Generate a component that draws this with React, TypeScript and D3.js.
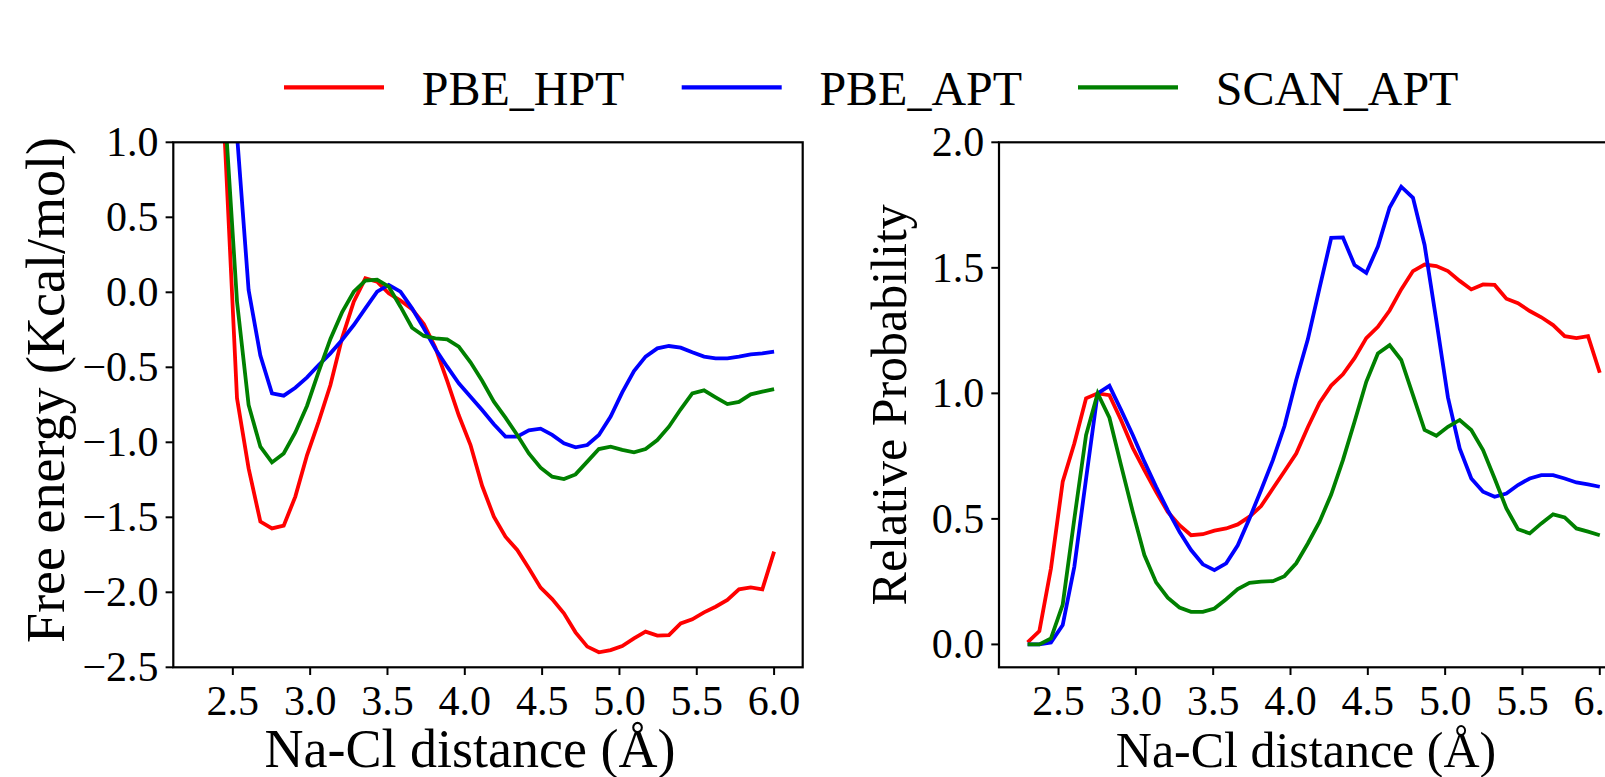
import React from 'react';
import * as d3 from 'd3';

// Na-Cl distance grid (Å)
const distance = [
  2.300, 2.376, 2.451, 2.527, 2.602, 2.678, 2.753, 2.829, 2.904, 2.980,
  3.055, 3.131, 3.206, 3.282, 3.357, 3.433, 3.508, 3.584, 3.659, 3.735,
  3.810, 3.886, 3.961, 4.037, 4.112, 4.188, 4.263, 4.339, 4.414, 4.490,
  4.565, 4.641, 4.716, 4.792, 4.867, 4.943, 5.018, 5.094, 5.169, 5.245,
  5.320, 5.396, 5.471, 5.547, 5.622, 5.698, 5.773, 5.849, 5.924, 6.000,
];

const seriesNames = ['PBE_HPT', 'PBE_APT', 'SCAN_APT'];
const seriesColors = ['#ff0000', '#0000ff', '#008000'];

// Free energy (kcal/mol)
const freeHPT = [
  4.5, 2.4, 0.95, -0.707, -1.174, -1.529, -1.574, -1.556, -1.362, -1.085,
  -0.862, -0.618, -0.307, -0.062, 0.093, 0.071, -0.007, -0.055, -0.112, -0.212,
  -0.37, -0.59, -0.82, -1.018, -1.29, -1.496, -1.629, -1.718, -1.840, -1.969,
  -2.045, -2.140, -2.267, -2.362, -2.400, -2.385, -2.358, -2.307, -2.262, -2.289,
  -2.285, -2.207, -2.180, -2.134, -2.096, -2.051, -1.980, -1.967, -1.980, -1.729,
];
const freeAPT = [
  6.0, 4.5, 2.6, 1.05, 0.015, -0.422, -0.674, -0.689, -0.636, -0.567,
  -0.485, -0.407, -0.318, -0.218, -0.107, 0.004, 0.049, 0.004, -0.107, -0.240,
  -0.378, -0.496, -0.607, -0.696, -0.785, -0.880, -0.962, -0.962, -0.920, -0.909,
  -0.951, -1.007, -1.034, -1.018, -0.951, -0.829, -0.667, -0.525, -0.429, -0.374,
  -0.358, -0.369, -0.400, -0.429, -0.440, -0.440, -0.429, -0.414, -0.407, -0.396,
];
const freeSCAN = [
  5.0, 3.2, 1.17, -0.062, -0.751, -1.029, -1.134, -1.074, -0.934, -0.756,
  -0.529, -0.311, -0.134, 0.004, 0.078, 0.084, 0.038, -0.096, -0.236, -0.291,
  -0.307, -0.314, -0.362, -0.467, -0.59, -0.729, -0.836, -0.951, -1.074, -1.169,
  -1.229, -1.245, -1.214, -1.129, -1.045, -1.029, -1.051, -1.067, -1.045, -0.985,
  -0.896, -0.780, -0.674, -0.654, -0.700, -0.745, -0.731, -0.680, -0.662, -0.645,
];

// Relative probability
const probHPT = [
  0.008, 0.053, 0.303, 0.648, 0.80, 0.980, 1.000, 0.993, 0.894, 0.783,
  0.694, 0.608, 0.528, 0.475, 0.435, 0.439, 0.453, 0.462, 0.478, 0.509,
  0.551, 0.621, 0.690, 0.760, 0.865, 0.963, 1.031, 1.076, 1.140, 1.220,
  1.265, 1.330, 1.414, 1.487, 1.513, 1.507, 1.487, 1.448, 1.414, 1.434,
  1.432, 1.377, 1.359, 1.328, 1.303, 1.272, 1.228, 1.220, 1.228, 1.082,
];
const probAPT = [
  0.0, 0.0, 0.008, 0.077, 0.309, 0.66, 1.0, 1.030, 0.934, 0.834,
  0.728, 0.628, 0.535, 0.449, 0.376, 0.319, 0.296, 0.323, 0.395, 0.502,
  0.615, 0.734, 0.87, 1.053, 1.215, 1.42, 1.619, 1.621, 1.511, 1.480,
  1.585, 1.740, 1.823, 1.779, 1.591, 1.29, 0.984, 0.781, 0.661, 0.608,
  0.588, 0.601, 0.635, 0.661, 0.674, 0.674, 0.661, 0.645, 0.637, 0.628,
];
const probSCAN = [
  0.0, 0.0, 0.024, 0.159, 0.50, 0.834, 1.0, 0.903, 0.714, 0.528,
  0.356, 0.247, 0.186, 0.147, 0.130, 0.130, 0.143, 0.180, 0.220, 0.245,
  0.250, 0.252, 0.272, 0.323, 0.402, 0.489, 0.597, 0.734, 0.887, 1.046,
  1.159, 1.192, 1.133, 0.993, 0.854, 0.831, 0.867, 0.894, 0.854, 0.774,
  0.661, 0.542, 0.459, 0.442, 0.482, 0.518, 0.506, 0.462, 0.449, 0.435,
];

const xTicks = [2.5, 3.0, 3.5, 4.0, 4.5, 5.0, 5.5, 6.0];
const yTicksLeft = [-2.5, -2.0, -1.5, -1.0, -0.5, 0.0, 0.5, 1.0];
const yTicksRight = [0.0, 0.5, 1.0, 1.5, 2.0];
const xLabel = 'Na-Cl distance (Å)';
const yLabelLeft = 'Free energy (Kcal/mol)';
const yLabelRight = 'Relative Probability';

const W = 1605;
const H = 777;
const FONT = '"Liberation Serif", "DejaVu Serif", serif';
const TICK_FONT = 42;
const LEGEND_FONT = 48;
const TOP = 142.3;
const BOTTOM = 667.3;
const TICK_LEN = 7.7;
const fmt = d3.format('.1f');

type PanelProps = {
  id: string;
  x0: number;
  x1: number;
  yDomain: [number, number];
  yTicks: number[];
  series: number[][];
  yLabel: string;
  yLabelX: number;
  yLabelY: number;
  xLabelX: number;
  labelFont: number;
};

function Panel({ id, x0, x1, yDomain, yTicks, series, yLabel, yLabelX, yLabelY, xLabelX, labelFont }: PanelProps) {
  const xExt = d3.extent(distance) as [number, number];
  const pad = (xExt[1] - xExt[0]) * 0.05;
  const x = d3.scaleLinear().domain([xExt[0] - pad, xExt[1] + pad]).range([x0, x1]);
  const y = d3.scaleLinear().domain(yDomain).range([BOTTOM, TOP]);
  const line = d3
    .line<number>()
    .x((_, i) => x(distance[i]))
    .y((v) => y(v));
  return (
    <g>
      <defs>
        <clipPath id={`clip-${id}`}>
          <rect x={x0} y={TOP} width={x1 - x0} height={BOTTOM - TOP} />
        </clipPath>
      </defs>
      <g clipPath={`url(#clip-${id})`}>
        {series.map((s, k) => (
          <path
            key={k}
            d={line(s) || ''}
            fill="none"
            stroke={seriesColors[k]}
            strokeWidth={3.8}
            strokeLinejoin="miter"
          />
        ))}
      </g>
      <rect x={x0} y={TOP} width={x1 - x0} height={BOTTOM - TOP} fill="none" stroke="#000" strokeWidth={2.2} />
      {xTicks.map((t) => (
        <g key={`x${t}`}>
          <line x1={x(t)} x2={x(t)} y1={BOTTOM} y2={BOTTOM + TICK_LEN} stroke="#000" strokeWidth={2} />
          <text
            x={x(t)}
            y={BOTTOM + TICK_LEN + 40}
            textAnchor="middle"
            fontFamily={FONT}
            fontSize={TICK_FONT}
          >
            {fmt(t)}
          </text>
        </g>
      ))}
      {yTicks.map((t) => (
        <g key={`y${t}`}>
          <line x1={x0 - TICK_LEN} x2={x0} y1={y(t)} y2={y(t)} stroke="#000" strokeWidth={2} />
          <text
            x={x0 - TICK_LEN - 7}
            y={y(t) + 14}
            textAnchor="end"
            fontFamily={FONT}
            fontSize={TICK_FONT}
          >
            {fmt(t)}
          </text>
        </g>
      ))}
      <text
        x={xLabelX}
        y={767}
        textAnchor="middle"
        fontFamily={FONT}
        fontSize={labelFont}
      >
        {xLabel}
      </text>
      <text
        transform={`translate(${yLabelX},${yLabelY}) rotate(-90)`}
        textAnchor="middle"
        fontFamily={FONT}
        fontSize={labelFont}
      >
        {yLabel}
      </text>
    </g>
  );
}

export default function App() {
  const probMax = d3.max([...probHPT, ...probAPT, ...probSCAN]) as number;
  const legendLineX = [284, 681.7, 1078];
  return (
    <svg
      width={W}
      height={H}
      viewBox={`0 0 ${W} ${H}`}
      style={{ position: 'absolute', left: 0, top: 0, background: '#fff' }}
    >
      <rect x={0} y={0} width={W} height={H} fill="#fff" />
      <Panel
        id="left"
        x0={173.3}
        x1={802.7}
        yDomain={[-2.5, 1.0]}
        yTicks={yTicksLeft}
        series={[freeHPT, freeAPT, freeSCAN]}
        yLabel={yLabelLeft}
        yLabelX={64}
        yLabelY={390}
        xLabelX={470}
        labelFont={54}
      />
      <Panel
        id="right"
        x0={999}
        x1={1628.4}
        yDomain={[-probMax * 0.05, 2.0]}
        yTicks={yTicksRight}
        series={[probHPT, probAPT, probSCAN]}
        yLabel={yLabelRight}
        yLabelX={906}
        yLabelY={404.8}
        xLabelX={1306}
        labelFont={50}
      />
      {seriesNames.map((name, k) => (
        <g key={name}>
          <line
            x1={legendLineX[k]}
            x2={legendLineX[k] + 100}
            y1={87.3}
            y2={87.3}
            stroke={seriesColors[k]}
            strokeWidth={4.2}
          />
          <text
            x={legendLineX[k] + 137.7}
            y={105}
            fontFamily={FONT}
            fontSize={LEGEND_FONT}
          >
            {name}
          </text>
        </g>
      ))}
    </svg>
  );
}
